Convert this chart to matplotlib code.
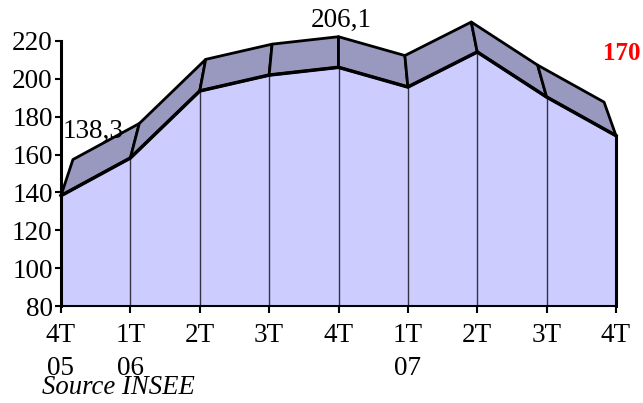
import matplotlib
matplotlib.use("Agg")
import matplotlib.pyplot as plt
from matplotlib.patches import Polygon
import numpy as np

categories = ["4T\n05", "1T\n06", "2T", "3T", "4T", "1T\n07", "2T", "3T", "4T"]
values = [138.3, 158.2, 193.6, 202.0, 206.1, 195.7, 214.2, 190.4, 170.0]
y_ticks = [80, 100, 120, 140, 160, 180, 200, 220]

front_color = "#CCCCFF"
top_color = "#9999C0"

plt.rcParams['font.family'] = ['Liberation Serif', 'DejaVu Serif']

fig = plt.figure(figsize=(6.43, 4.03), dpi=100)
ax = fig.add_axes([61/643, 1-306/403, (616-61)/643, (306-41)/403])
ax.set_xlim(0, len(values)-1)
ax.set_ylim(80, 220)

x = np.arange(len(values))
v = np.array(values)

# perspective depth projection
s = 0.957
cx = (len(values)-1) / 2
vy = 582
bx = cx + (x - cx) * s
bv = vy + (v - vy) * s

# front face
ax.fill_between(x, 80, v, color=front_color, lw=0, zorder=1)

# top faces
for i in range(len(x)-1):
    poly = Polygon([(x[i], v[i]), (x[i+1], v[i+1]), (bx[i+1], bv[i+1]), (bx[i], bv[i])],
                   closed=True, facecolor=top_color, edgecolor="black", lw=2,
                   joinstyle="round", clip_on=False, zorder=3)
    ax.add_patch(poly)

# dividers
for i in range(1, len(x)-1):
    ax.plot([x[i], x[i]], [80, v[i]], color="#333344", lw=1, zorder=2)
ax.plot([x[-1], x[-1]], [80, v[-1]], color="black", lw=2.2, zorder=4, clip_on=False)
ax.plot(x, v, color="black", lw=2.5, zorder=4, clip_on=False, solid_joinstyle="round")

for sp in ["top", "right"]:
    ax.spines[sp].set_visible(False)
ax.spines["left"].set_linewidth(2.2)
ax.spines["bottom"].set_linewidth(1.5)
ax.spines["left"].set_zorder(5)

ax.set_yticks(y_ticks)
ax.set_yticklabels([str(t) for t in y_ticks], fontsize=19.5)
ax.set_xticks(x)
ax.set_xticklabels(categories, fontsize=19.5, linespacing=1.45, va="top")
ax.tick_params(axis="y", direction="out", length=4, width=1.5, pad=2)
ax.tick_params(axis="x", direction="out", length=5, width=1.5, pad=7)

ax.annotate("138,3", xy=(x[0], v[0]), xytext=(1, 46), textcoords="offset points",
            ha="left", va="center", fontsize=19.5)
ax.annotate("206,1", xy=(x[4], v[4]), xytext=(2, 34), textcoords="offset points",
            ha="center", va="center", fontsize=19.5)
ax.annotate("170", xy=(x[8], v[8]), xytext=(4, 59), textcoords="offset points",
            ha="center", va="center", fontsize=18, color="red", fontweight="bold")

fig.text(42/643, 1-388/403, "Source INSEE", fontsize=19.3, style="italic",
         ha="left", va="center")

fig.savefig("out.png", dpi=100)
